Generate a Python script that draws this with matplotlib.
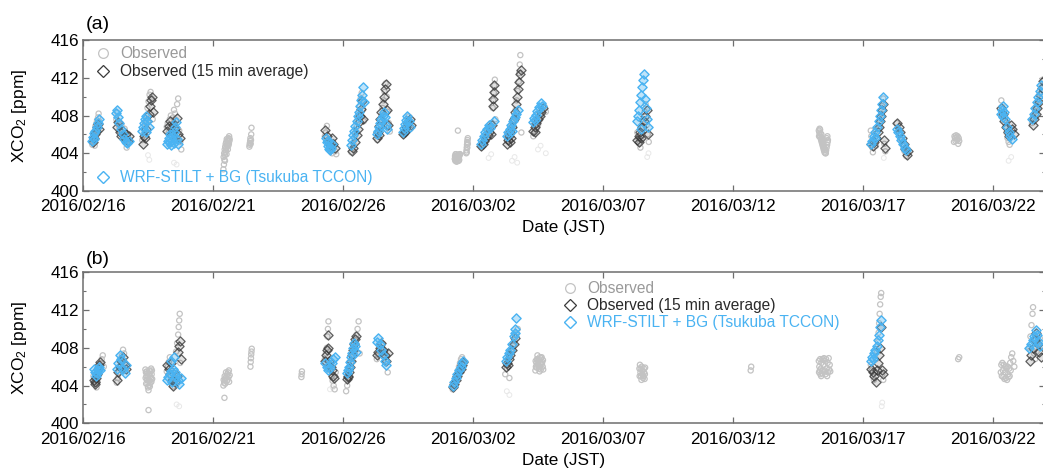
import numpy as np
import matplotlib
matplotlib.use('Agg')
import matplotlib.pyplot as plt
import matplotlib.dates as mdates
from matplotlib.lines import Line2D
from matplotlib.ticker import MultipleLocator
from matplotlib.colors import to_rgba

plt.rcParams['font.family'] = ['Liberation Sans', 'DejaVu Sans']
plt.rcParams['mathtext.fontset'] = 'custom'
plt.rcParams['mathtext.rm'] = 'Liberation Sans'
plt.rcParams['mathtext.it'] = 'Liberation Sans:italic'

# ---------------- axis settings ----------------
start_date = '2016-02-16'
end_date = '2016-03-24'
tick_dates = ['2016-02-16', '2016-02-21', '2016-02-26', '2016-03-02',
              '2016-03-07', '2016-03-12', '2016-03-17', '2016-03-22']
y_ticks = [400, 404, 408, 412, 416]
panel_labels = ['(a)', '(b)']
legend_labels = ['Observed', 'Observed (15 min average)', 'WRF-STILT + BG (Tsukuba TCCON)']
x_label = 'Date (JST)'
y_label = 'XCO$_2$ [ppm]'

# ---------------- panel (a) data: days since 2016/02/16 00:00 JST ----------------
a_obs_day = [
    0.36, 0.38, 0.40, 0.42, 0.44, 0.46, 0.48, 0.50, 0.52, 0.54, 0.56, 0.58, 0.60, 0.62, 0.45,
    1.28, 1.32, 1.36, 1.40, 1.44, 1.48, 1.52, 1.56, 1.60, 1.64, 1.68, 1.72, 1.76, 1.80,
    2.28, 2.32, 2.36, 2.40, 2.44, 2.48, 2.52, 2.56, 2.60, 2.64, 2.68,
    3.22, 3.26, 3.30, 3.34, 3.38, 3.42, 3.46, 3.50, 3.54, 3.58, 3.62, 3.66, 3.70, 3.74, 3.78,
    5.40, 5.42, 5.44, 5.46, 5.48, 5.50, 5.52, 5.54, 5.56, 5.58, 5.60, 5.62, 5.64, 5.41, 5.43, 5.45, 5.47, 5.49, 5.51, 5.53,
    5.57, 5.59, 5.61, 5.63, 5.46, 5.52,
    6.40, 6.41, 6.42, 6.43, 6.44, 6.45, 6.46, 6.47, 6.48,
    9.30, 9.34, 9.38, 9.42, 9.46, 9.50, 9.54, 9.58, 9.62, 9.66, 9.70, 9.74,
    10.32, 10.36, 10.40, 10.44, 10.48, 10.52, 10.56, 10.60, 10.64, 10.68, 10.72, 10.76, 10.80,
    11.32, 11.36, 11.40, 11.44, 11.48, 11.52, 11.56, 11.60, 11.64, 11.68, 11.72, 11.76, 11.80,
    12.32, 12.36, 12.40, 12.44, 12.48, 12.52, 12.56, 12.60,
    14.30, 14.32, 14.34, 14.36, 14.38, 14.40, 14.42, 14.44, 14.46, 14.48, 14.50, 14.33, 14.39, 14.45,
    14.74, 14.75, 14.76, 14.77, 14.78, 14.79, 14.80, 14.42,
    14.31, 14.35, 14.37, 14.41, 14.43, 14.47, 14.49, 14.76, 14.78, 14.80,
    15.32, 15.36, 15.40, 15.44, 15.48, 15.52, 15.56, 15.60, 15.64, 15.68, 15.72, 15.76, 15.78, 15.80, 15.82, 15.84, 15.86,
    16.32, 16.36, 16.40, 16.44, 16.48, 16.52, 16.56, 16.60, 16.64, 16.68, 16.72, 16.76, 16.78, 16.80, 16.82, 16.86,
    17.32, 17.38, 17.44, 17.50, 17.56, 17.62, 17.68, 17.74, 17.80,
    21.32, 21.36, 21.40, 21.44, 21.48, 21.52, 21.56, 21.60, 21.64, 21.68, 21.72, 21.76,
    28.30, 28.32, 28.34, 28.36, 28.38, 28.40, 28.42, 28.44, 28.46, 28.48, 28.50, 28.52, 28.55, 28.58, 28.60, 28.62, 28.64, 28.40, 28.35,
    28.31, 28.33, 28.37, 28.41, 28.43, 28.45, 28.47, 28.49, 28.51, 28.53, 28.57, 28.61, 28.63, 28.65,
    30.30, 30.32, 30.34, 30.36, 30.38, 30.50, 30.56, 30.62, 30.66, 30.70, 30.74, 30.78, 30.82, 30.86,
    31.30, 31.36, 31.42, 31.48, 31.54, 31.60, 31.66, 31.72,
    33.50, 33.54, 33.58, 33.62, 33.66, 33.70, 33.52, 33.56, 33.60, 33.64, 33.68,
    35.32, 35.36, 35.40, 35.44, 35.48, 35.52, 35.56, 35.60, 35.64, 35.70, 35.76,
    36.50, 36.56, 36.62, 36.68, 36.74, 36.80, 36.86, 36.92,
]
a_obs_xco2 = [
    404.9, 405.3, 405.6, 406.0, 405.8, 406.4, 406.9, 406.6, 407.2, 407.5, 407.0, 407.8, 408.2, 407.4, 404.8,
    407.6, 408.3, 407.2, 406.8, 406.3, 407.0, 406.0, 405.5, 406.6, 405.2, 404.6, 405.8, 405.1, 405.4,
    405.4, 405.9, 406.5, 407.2, 408.0, 408.8, 409.5, 410.2, 410.5, 409.8, 407.6,
    406.8, 407.2, 406.2, 407.6, 408.0, 406.9, 407.8, 408.6, 408.2, 407.5, 409.2, 409.8, 406.4, 405.2, 404.4,
    402.3, 402.8, 403.3, 403.8, 404.1, 404.3, 404.6, 404.9, 405.1, 405.4, 405.6, 405.8, 405.5, 403.6, 404.0, 404.4, 404.7, 405.0, 405.2, 405.5,
    404.4, 404.8, 405.0, 405.3, 403.2, 403.9,
    404.7, 404.9, 405.1, 405.3, 405.6, 405.0, 405.4, 406.0, 406.7,
    405.8, 406.2, 406.9, 405.4, 405.0, 404.6, 404.3, 404.0, 405.2, 404.8, 404.2, 403.9,
    404.1, 404.5, 405.0, 405.6, 406.2, 406.8, 407.5, 408.3, 409.0, 409.8, 410.4, 408.6, 407.4,
    405.4, 405.8, 406.5, 407.3, 408.0, 408.8, 409.6, 410.5, 411.4, 410.0, 408.4, 407.2, 406.3,
    405.9, 406.3, 406.7, 407.1, 407.5, 407.9, 407.3, 406.6,
    403.4, 403.2, 403.3, 403.5, 403.4, 403.6, 403.5, 403.7, 403.6, 403.8, 403.9, 403.9, 403.8, 403.2,
    404.0, 404.3, 404.6, 404.9, 405.2, 405.4, 405.6, 406.4,
    403.7, 403.9, 403.1, 403.2, 403.8, 403.3, 403.9, 404.1, 404.6, 405.0,
    404.6, 404.9, 405.2, 405.5, 405.8, 406.1, 406.4, 406.7, 407.0, 406.5, 407.2, 408.8, 409.6, 410.4, 411.2, 411.8, 407.6,
    405.3, 405.6, 406.0, 406.5, 407.0, 407.4, 406.8, 407.8, 408.6, 409.6, 410.6, 411.6, 412.5, 413.4, 414.4, 406.2,
    405.8, 406.2, 406.6, 407.0, 407.5, 408.0, 408.6, 409.0, 408.4,
    406.2, 405.6, 405.0, 404.6, 405.4, 406.8, 407.6, 408.4, 409.2, 407.0, 406.0, 405.2,
    406.4, 406.2, 405.9, 405.7, 405.5, 405.3, 405.1, 404.9, 404.7, 404.5, 404.3, 404.1, 404.0, 404.3, 404.6, 404.9, 405.2, 406.0, 406.5,
    405.8, 406.6, 406.1, 405.6, 405.4, 405.2, 405.0, 404.8, 404.6, 404.4, 404.0, 405.6, 405.8, 405.4,
    406.4, 405.8, 405.2, 404.6, 404.1, 404.8, 405.6, 406.6, 407.4, 408.2, 409.0, 409.8, 405.0, 404.2,
    407.2, 406.6, 406.0, 405.4, 404.8, 404.2, 403.7, 404.0,
    405.2, 405.6, 405.9, 405.4, 405.0, 405.3, 405.8, 405.3, 405.7, 405.8, 405.6,
    409.6, 408.9, 408.2, 407.5, 406.8, 406.2, 405.6, 405.2, 404.9, 405.8, 406.4,
    407.2, 407.8, 408.4, 409.0, 409.6, 410.3, 411.0, 411.8,
]
a_faint_day = [2.50, 2.55, 3.50, 3.60, 15.60, 15.70, 16.50, 16.60, 16.70, 17.50, 17.60, 17.80, 21.70, 21.75, 30.80, 35.60, 35.70]
a_faint_xco2 = [403.8, 403.3, 403.0, 402.8, 403.5, 403.9, 403.2, 403.6, 403.0, 404.4, 404.8, 404.0, 403.6, 404.0, 403.5, 403.2, 403.6]

a_avg_day = [
    0.38, 0.42, 0.46, 0.50, 0.54, 0.58, 0.62,
    1.30, 1.36, 1.42, 1.48, 1.54, 1.60, 1.66, 1.72, 1.78,
    2.30, 2.36, 2.42, 2.48, 2.52, 2.56, 2.60, 2.64, 2.68, 2.38,
    3.24, 3.30, 3.36, 3.42, 3.48, 3.54, 3.60, 3.66, 3.72, 3.38,
    9.32, 9.38, 9.44, 9.50, 9.56, 9.62, 9.68,
    10.34, 10.40, 10.46, 10.52, 10.58, 10.62, 10.66, 10.70, 10.74, 10.78,
    11.32, 11.36, 11.40, 11.44, 11.48, 11.52, 11.56, 11.60, 11.64, 11.68, 11.72, 11.40,
    12.32, 12.38, 12.44, 12.50, 12.56, 12.62, 12.40,
    15.32, 15.38, 15.44, 15.50, 15.56, 15.62, 15.68, 15.76, 15.78, 15.80, 15.82, 15.74,
    16.32, 16.36, 16.40, 16.44, 16.50, 16.56, 16.60, 16.64, 16.68, 16.72, 16.76, 16.80, 16.84, 16.48, 16.42,
    17.32, 17.38, 17.44, 17.50, 17.56, 17.62, 17.68, 17.40,
    21.32, 21.38, 21.44, 21.50, 21.56, 21.62, 21.68, 21.74, 21.40, 21.48,
    30.32, 30.38, 30.44, 30.50, 30.56, 30.62, 30.66, 30.70, 30.74, 30.78, 30.82, 30.86,
    31.32, 31.38, 31.44, 31.50, 31.56, 31.62, 31.68, 31.72,
    35.32, 35.38, 35.44, 35.50, 35.56, 35.62, 35.68, 35.74, 35.80,
    36.52, 36.58, 36.64, 36.70, 36.76, 36.82, 36.88, 36.94,
]
a_avg_xco2 = [
    405.2, 405.6, 406.0, 406.4, 406.8, 407.1, 406.6,
    406.8, 407.3, 406.2, 405.8, 406.4, 405.6, 406.0, 405.3, 405.8,
    405.0, 405.8, 406.6, 407.4, 408.2, 409.0, 409.6, 410.0, 408.4, 405.6,
    406.4, 406.9, 407.4, 406.2, 407.0, 406.6, 407.7, 406.0, 405.6, 405.9,
    406.5, 405.8, 405.3, 404.9, 405.6, 405.0, 404.6,
    404.2, 404.6, 405.2, 405.9, 406.6, 407.3, 408.0, 408.7, 409.5, 407.6,
    405.6, 406.2, 406.9, 407.6, 408.4, 409.2, 410.0, 410.8, 411.3, 408.6, 407.0, 405.9,
    406.0, 406.4, 406.8, 407.2, 407.6, 407.0, 406.2,
    404.8, 405.0, 405.3, 405.6, 405.9, 406.2, 406.0, 409.0, 409.8, 410.5, 411.2, 407.0,
    405.0, 405.4, 405.8, 406.2, 406.8, 407.6, 408.4, 409.2, 410.0, 410.8, 411.6, 412.4, 412.8, 405.6, 405.2,
    406.4, 406.8, 407.2, 407.6, 408.0, 408.4, 408.8, 406.2,
    405.4, 405.8, 406.2, 406.8, 407.4, 408.0, 408.6, 406.0, 405.2, 405.6,
    405.0, 404.8, 405.2, 405.6, 406.2, 406.8, 407.4, 408.0, 408.6, 409.2, 405.4, 404.6,
    407.2, 406.8, 406.2, 405.6, 405.0, 404.4, 403.8, 404.2,
    408.8, 408.2, 407.4, 406.8, 406.2, 405.8, 407.0, 406.6, 406.0,
    407.0, 407.6, 408.2, 408.8, 409.4, 410.2, 410.9, 411.7,
]

a_mod_day = [
    0.36, 0.40, 0.44, 0.48, 0.52, 0.56, 0.60, 0.42,
    1.28, 1.32, 1.36, 1.40, 1.46, 1.52, 1.58, 1.64, 1.70, 1.76,
    2.28, 2.32, 2.36, 2.40, 2.44, 2.48, 2.52, 2.42,
    3.22, 3.26, 3.30, 3.34, 3.38, 3.42, 3.46, 3.50, 3.54, 3.58, 3.62, 3.66, 3.34, 3.50,
    9.34, 9.38, 9.42, 9.46, 9.50, 9.54, 9.58, 9.44,
    10.32, 10.36, 10.40, 10.44, 10.48, 10.52, 10.56, 10.60, 10.64, 10.68, 10.72, 10.76, 10.80,
    11.32, 11.36, 11.40, 11.44, 11.48, 11.52, 11.56, 11.60, 11.64, 11.68,
    12.32, 12.36, 12.40, 12.44, 12.48, 12.52, 12.56,
    15.30, 15.36, 15.42, 15.48, 15.54, 15.60, 15.66, 15.80,
    16.30, 16.36, 16.42, 16.48, 16.54, 16.60, 16.66, 16.72, 16.50,
    17.30, 17.36, 17.42, 17.48, 17.54, 17.60, 17.66, 17.40,
    21.30, 21.34, 21.38, 21.42, 21.46, 21.50, 21.54, 21.58, 21.62, 21.66, 21.70, 21.74, 21.48,
    30.30, 30.36, 30.42, 30.48, 30.54, 30.60, 30.64, 30.68, 30.72, 30.76, 30.46,
    31.30, 31.36, 31.42, 31.48, 31.54, 31.60, 31.66,
    35.30, 35.34, 35.38, 35.42, 35.48, 35.54, 35.60, 35.66, 35.72, 35.40,
    36.50, 36.56, 36.62, 36.68, 36.74, 36.80, 36.86,
]
a_mod_xco2 = [
    405.3, 405.7, 406.1, 406.4, 406.8, 407.2, 407.6, 405.5,
    408.3, 408.6, 407.8, 407.2, 406.6, 406.0, 405.5, 405.2, 405.1, 405.3,
    406.4, 406.8, 407.2, 407.6, 408.0, 407.4, 406.8, 406.2,
    405.0, 405.3, 405.6, 405.2, 404.9, 405.4, 405.8, 406.2, 406.8, 407.3, 405.5, 405.0, 406.0, 405.1,
    405.6, 405.2, 404.8, 404.5, 404.3, 404.6, 405.0, 405.3,
    404.9, 405.4, 405.9, 406.4, 406.9, 407.4, 407.9, 408.4, 409.0, 409.6, 410.2, 411.0, 409.4,
    406.0, 406.4, 406.8, 407.2, 407.6, 408.0, 408.4, 407.8, 407.0, 406.6,
    406.3, 406.7, 407.1, 407.5, 407.9, 407.4, 406.8,
    405.0, 405.4, 405.8, 406.2, 406.6, 407.0, 406.7, 407.4,
    405.8, 406.2, 406.6, 407.0, 407.4, 407.8, 408.2, 408.6, 406.4,
    407.3, 407.7, 408.1, 408.5, 408.9, 409.3, 409.0, 407.5,
    407.4, 408.0, 408.6, 409.4, 410.2, 411.0, 411.8, 412.4, 409.8, 408.8, 407.6, 406.8, 406.6,
    405.0, 405.3, 405.8, 406.2, 406.8, 407.4, 408.0, 408.6, 409.2, 410.0, 405.6,
    406.6, 406.2, 405.8, 405.4, 405.0, 404.6, 404.3,
    408.2, 408.6, 409.0, 408.4, 407.6, 406.8, 406.2, 405.8, 405.5, 407.8,
    407.6, 408.2, 408.8, 409.4, 410.0, 410.6, 411.2,
]

# ---------------- panel (b) data ----------------
b_obs_day = [
    0.40, 0.44, 0.48, 0.52, 0.56, 0.60, 0.64, 0.68, 0.72, 0.76, 0.80,
    1.30, 1.34, 1.38, 1.42, 1.46, 1.50, 1.54, 1.58, 1.62, 1.66,
    2.40, 2.42, 2.44, 2.46, 2.48, 2.50, 2.52, 2.54, 2.56, 2.58, 2.60, 2.62, 2.64, 2.66, 2.52,
    2.41, 2.43, 2.45, 2.47, 2.49, 2.51, 2.53, 2.55, 2.57, 2.59, 2.61, 2.63, 2.65,
    3.22, 3.26, 3.30, 3.34, 3.38, 3.42, 3.46, 3.50, 3.54, 3.58, 3.62, 3.66, 3.68, 3.70, 3.72, 3.74,
    5.40, 5.43, 5.46, 5.49, 5.52, 5.55, 5.58, 5.61, 5.64, 5.47, 5.53, 5.44,
    5.41, 5.45, 5.50, 5.56, 5.60, 5.62,
    6.44, 6.45, 6.46, 6.47, 6.48, 6.49,
    8.40, 8.41, 8.42,
    9.30, 9.34, 9.38, 9.40, 9.42, 9.44, 9.48, 9.52, 9.56, 9.60, 9.64, 9.68, 9.72,
    10.12, 10.16, 10.20, 10.24, 10.28, 10.32, 10.36, 10.40, 10.44, 10.48, 10.52, 10.56, 10.60, 10.64,
    11.30, 11.36, 11.42, 11.48, 11.54, 11.60, 11.66, 11.72,
    14.22, 14.26, 14.30, 14.34, 14.38, 14.42, 14.46, 14.50, 14.54, 14.58, 14.62,
    16.24, 16.30, 16.36, 16.42, 16.48, 16.54, 16.60, 16.66, 16.72, 16.40,
    17.40, 17.42, 17.44, 17.46, 17.48, 17.50, 17.52, 17.54, 17.56, 17.58, 17.60, 17.62, 17.64, 17.66, 17.68, 17.70,
    17.41, 17.45, 17.49, 17.53, 17.57, 17.61, 17.65, 17.69,
    21.40, 21.42, 21.44, 21.46, 21.48, 21.50, 21.52, 21.54, 21.56, 21.58, 21.60, 21.62,
    21.41, 21.45, 21.49, 21.53, 21.57, 21.61,
    25.68, 25.70,
    28.30, 28.32, 28.34, 28.36, 28.38, 28.40, 28.44, 28.48, 28.52, 28.56, 28.60, 28.64, 28.68, 28.72, 28.74,
    28.31, 28.35, 28.39, 28.42, 28.46, 28.50, 28.54, 28.58, 28.62, 28.66, 28.70,
    30.30, 30.34, 30.38, 30.42, 30.46, 30.50, 30.54, 30.58, 30.60, 30.62, 30.64, 30.66, 30.68, 30.70, 30.74, 30.78,
    33.66, 33.70,
    35.30, 35.34, 35.38, 35.42, 35.46, 35.50, 35.54, 35.58, 35.62, 35.66, 35.70, 35.74, 35.78, 35.82,
    35.32, 35.36, 35.40, 35.44, 35.48, 35.52, 35.56, 35.60, 35.64, 35.68,
    36.40, 36.44, 36.48, 36.52, 36.54, 36.58, 36.62, 36.68, 36.74, 36.80, 36.86,
]
b_obs_xco2 = [
    405.0, 404.6, 404.2, 403.8, 404.4, 405.2, 405.8, 406.4, 406.8, 407.2, 406.0,
    404.3, 404.8, 405.4, 406.0, 406.6, 407.2, 407.8, 407.4, 406.4, 405.6,
    405.7, 405.4, 405.0, 404.6, 404.2, 403.8, 403.5, 404.0, 404.5, 405.0, 405.5, 405.8, 405.2, 404.7, 401.4,
    404.8, 404.2, 405.5, 405.3, 404.9, 404.5, 405.2, 405.6, 403.9, 404.3, 404.8, 404.4, 405.6,
    405.5, 406.0, 406.5, 407.0, 405.0, 404.4, 403.9, 404.6, 405.3, 407.6, 408.5, 409.4, 410.2, 410.9, 411.6, 406.4,
    404.0, 404.3, 404.6, 404.8, 405.0, 405.2, 405.4, 405.6, 405.1, 404.2, 404.5, 402.7,
    404.6, 405.0, 405.4, 404.6, 404.9, 404.4,
    406.0, 406.5, 406.9, 407.3, 407.6, 407.9,
    404.9, 405.2, 405.5,
    406.8, 407.4, 408.0, 409.2, 410.0, 410.8, 406.2, 405.6, 405.0, 404.5, 404.0, 403.6, 405.4,
    403.4, 404.0, 404.6, 405.2, 405.8, 406.4, 407.0, 407.6, 408.2, 408.8, 409.4, 410.0, 410.8, 407.4,
    406.8, 407.2, 407.6, 408.0, 408.4, 407.4, 406.6, 405.4,
    403.6, 404.0, 404.4, 404.8, 405.2, 405.6, 406.0, 406.4, 406.8, 407.0, 406.2,
    405.2, 405.8, 406.4, 407.0, 407.6, 408.2, 408.8, 409.4, 410.0, 404.8,
    405.6, 406.0, 406.4, 406.8, 407.2, 406.6, 406.2, 405.8, 405.5, 406.0, 406.4, 406.9, 407.0, 406.5, 406.0, 405.7,
    406.6, 405.9, 406.2, 406.8, 407.0, 405.7, 406.3, 406.7,
    405.8, 406.2, 405.4, 405.0, 404.6, 405.2, 405.6, 404.8, 405.0, 405.4, 404.7, 405.9,
    405.0, 405.8, 406.0, 405.1, 405.8, 405.2,
    405.6, 406.0,
    406.6, 406.0, 405.6, 405.2, 405.8, 406.4, 406.8, 406.2, 405.6, 405.2, 405.8, 406.4, 406.9, 406.2, 405.5,
    405.4, 406.8, 405.0, 405.3, 405.6, 406.9, 406.6, 406.8, 405.0, 405.4, 405.7,
    406.2, 405.6, 405.0, 404.6, 405.4, 406.8, 407.6, 408.6, 409.6, 410.6, 411.6, 412.6, 413.4, 413.8, 405.2, 404.6,
    406.8, 407.0,
    405.4, 405.0, 405.6, 406.2, 405.4, 404.8, 404.6, 405.2, 405.8, 406.4, 407.0, 407.4, 406.6, 406.0,
    406.2, 406.4, 404.9, 404.7, 406.0, 405.8, 406.0, 404.9, 405.0, 405.6,
    408.0, 409.2, 410.4, 411.6, 412.3, 407.4, 406.8, 407.6, 408.4, 409.0, 408.2,
]
b_faint_day = [3.60, 3.70, 9.50, 9.60, 16.30, 16.40, 30.72, 30.74]
b_faint_xco2 = [402.0, 401.8, 403.6, 403.8, 403.4, 403.0, 401.8, 402.2]

b_avg_day = [
    0.42, 0.46, 0.50, 0.54, 0.58, 0.62, 0.66, 0.48,
    1.30, 1.36, 1.42, 1.48, 1.54, 1.60, 1.66,
    3.24, 3.30, 3.36, 3.42, 3.48, 3.54, 3.60, 3.64, 3.68, 3.72, 3.76, 3.40,
    9.32, 9.36, 9.40, 9.44, 9.48, 9.52, 9.56, 9.60, 9.64, 9.42,
    10.14, 10.18, 10.22, 10.26, 10.30, 10.34, 10.38, 10.42, 10.46, 10.50, 10.20,
    11.30, 11.36, 11.42, 11.48, 11.54, 11.60, 11.66, 11.72,
    14.22, 14.28, 14.34, 14.40, 14.46, 14.52, 14.58, 14.62,
    16.26, 16.32, 16.38, 16.44, 16.50, 16.56, 16.62, 16.34,
    30.32, 30.38, 30.44, 30.50, 30.54, 30.58, 30.62, 30.66, 30.70, 30.74, 30.78,
    36.42, 36.48, 36.54, 36.60, 36.66, 36.72, 36.78, 36.84,
]
b_avg_xco2 = [
    404.6, 404.2, 404.8, 405.2, 405.8, 406.2, 406.5, 404.4,
    404.6, 405.4, 406.0, 406.6, 407.0, 406.2, 405.8,
    406.2, 405.8, 405.2, 404.6, 403.9, 404.4, 405.0, 407.6, 408.2, 408.7, 406.8, 406.4,
    406.6, 407.2, 407.8, 409.4, 406.6, 406.0, 405.6, 405.0, 404.8, 408.0,
    404.7, 405.0, 405.4, 406.0, 406.6, 407.2, 407.8, 408.4, 408.9, 409.3, 404.9,
    407.2, 407.6, 408.0, 408.5, 407.8, 407.2, 406.6, 407.4,
    403.8, 404.2, 404.6, 405.0, 405.4, 405.8, 406.2, 406.5,
    406.0, 406.4, 406.8, 407.2, 407.8, 408.4, 409.0, 406.2,
    405.8, 405.4, 405.0, 404.4, 405.6, 406.4, 407.2, 408.0, 410.2, 405.6, 405.2,
    406.6, 407.2, 408.0, 408.8, 409.6, 408.4, 407.6, 407.0,
]

b_mod_day = [
    0.42, 0.46, 0.50, 0.54, 0.58, 0.62, 0.66,
    1.30, 1.36, 1.42, 1.48, 1.54, 1.60, 1.66,
    3.22, 3.28, 3.34, 3.40, 3.46, 3.52, 3.58, 3.64, 3.70, 3.76, 3.38, 3.50, 3.44,
    9.32, 9.38, 9.44, 9.50, 9.56, 9.62, 9.68,
    10.14, 10.18, 10.22, 10.26, 10.30, 10.34, 10.38, 10.42, 10.46, 10.50,
    11.30, 11.36, 11.42, 11.48, 11.54, 11.60, 11.66,
    14.22, 14.28, 14.34, 14.40, 14.46, 14.52, 14.58, 14.62,
    16.26, 16.32, 16.38, 16.44, 16.50, 16.56, 16.62, 16.66, 16.60,
    30.30, 30.36, 30.42, 30.48, 30.54, 30.58, 30.62, 30.66, 30.70, 30.40,
    36.40, 36.46, 36.52, 36.58, 36.64, 36.70, 36.76, 36.82,
]
b_mod_xco2 = [
    405.8, 405.4, 405.0, 405.3, 405.6, 406.0, 405.7,
    405.8, 406.4, 407.2, 406.8, 405.8, 405.3, 406.2,
    404.6, 404.9, 405.2, 405.5, 405.8, 405.4, 405.0, 404.6, 404.2, 404.8, 406.6, 407.0, 404.4,
    406.4, 406.0, 405.6, 405.9, 406.4, 406.8, 407.0,
    405.3, 405.6, 406.0, 406.5, 407.0, 407.5, 408.0, 408.5, 408.2, 407.6,
    408.6, 409.0, 408.4, 407.8, 407.2, 406.6, 406.2,
    404.0, 404.4, 404.8, 405.2, 405.6, 406.0, 406.4, 406.6,
    406.6, 407.0, 407.4, 407.8, 408.4, 409.2, 410.0, 411.2, 409.6,
    406.6, 407.0, 407.4, 407.8, 408.2, 408.8, 409.4, 410.2, 410.9, 406.8,
    408.0, 408.4, 408.8, 409.3, 409.9, 409.4, 408.6, 408.2,
]

# ---------------- styles ----------------
c_obs = '#c3c3c3'
c_faint = '#e8e8e8'
c_avg = '#3a3a3a'
c_mod = '#4ab3f2'
c_obs_text = '#9a9a9a'
c_avg_text = '#2a2a2a'
c_mod_text = '#4ab3f2'
spine_color = '#6e6e6e'

W, H = 1043, 469
fig = plt.figure(figsize=(W / 100, H / 100), dpi=100)

base = mdates.date2num(np.datetime64(start_date))


def to_num(days):
    return base + np.asarray(days, dtype=float)


def draw_panel(ax, obs_d, obs_v, faint_d, faint_v, avg_d, avg_v, mod_d, mod_v):
    ax.scatter(to_num(faint_d), faint_v, s=12, marker='o', facecolors='none',
               edgecolors=c_faint, linewidths=0.7, zorder=2)
    ax.scatter(to_num(obs_d), obs_v, s=14, marker='o', facecolors='none',
               edgecolors=c_obs, linewidths=0.9, zorder=3)
    ax.scatter(to_num(avg_d), avg_v, s=22, marker='D', facecolors=[to_rgba(c_avg, 0.15)],
               edgecolors=[to_rgba(c_avg, 0.8)], linewidths=0.9, zorder=4)
    ax.scatter(to_num(mod_d), mod_v, s=22, marker='D', facecolors=[to_rgba(c_mod, 0.35)],
               edgecolors=[to_rgba(c_mod, 1.0)], linewidths=1.0, zorder=5)

    ax.set_xlim(mdates.date2num(np.datetime64(start_date)), mdates.date2num(np.datetime64(end_date)))
    ax.set_ylim(y_ticks[0], y_ticks[-1])
    ax.set_xticks([mdates.date2num(np.datetime64(d)) for d in tick_dates])
    ax.xaxis.set_major_formatter(mdates.DateFormatter('%Y/%m/%d'))
    ax.set_yticks(y_ticks)
    ax.yaxis.set_minor_locator(MultipleLocator(2))
    ax.tick_params(which='both', direction='in', top=True, right=True,
                   color=spine_color, labelsize=12.3, pad=3)
    ax.tick_params(which='major', length=4.5, width=0.9)
    ax.tick_params(which='minor', length=2.5, width=0.8)
    ax.tick_params(axis='x', pad=6)
    for s in ax.spines.values():
        s.set_color(spine_color)
        s.set_linewidth(1.1)
    ax.set_xlabel(x_label, fontsize=12.3)
    ax.set_ylabel(y_label, fontsize=12.5)
    ax.yaxis.set_label_coords(-0.056, 0.5)


def handles():
    h_obs = Line2D([], [], ls='none', marker='o', ms=7, mfc='none', mec=c_obs, mew=0.9)
    h_avg = Line2D([], [], ls='none', marker='D', ms=6.4, mfc='none', mec=c_avg, mew=0.9)
    h_mod = Line2D([], [], ls='none', marker='D', ms=6.4, mfc='none', mec=c_mod, mew=1.0)
    return h_obs, h_avg, h_mod


def leg_kw(spacing):
    return dict(frameon=False, fontsize=11.2, handlelength=1.0, handletextpad=0.6,
                borderpad=0, borderaxespad=0, labelspacing=spacing, loc='upper left',
                bbox_transform=fig.transFigure)


# ---- panel (a)
ax_a = fig.add_axes([83 / W, 1 - 191 / H, 962 / W, 151 / H])
draw_panel(ax_a, a_obs_day, a_obs_xco2, a_faint_day, a_faint_xco2,
           a_avg_day, a_avg_xco2, a_mod_day, a_mod_xco2)
ax_a.xaxis.set_label_coords(0.5, -0.19)
h_obs, h_avg, h_mod = handles()
leg1 = ax_a.legend([h_obs, h_avg], legend_labels[:2], bbox_to_anchor=(95 / W, 1 - 46 / H),
                   labelcolor=[c_obs_text, c_avg_text], **leg_kw(0.2))
ax_a.add_artist(leg1)
ax_a.legend([h_mod], legend_labels[2:], bbox_to_anchor=(95 / W, 1 - 170 / H),
            labelcolor=[c_mod_text], **leg_kw(0.2))
ax_a.text(0.003, 1.075, panel_labels[0], transform=ax_a.transAxes, fontsize=14,
          ha='left', va='baseline')

# ---- panel (b)
ax_b = fig.add_axes([83 / W, 1 - 423.3 / H, 962 / W, 151 / H])
draw_panel(ax_b, b_obs_day, b_obs_xco2, b_faint_day, b_faint_xco2,
           b_avg_day, b_avg_xco2, b_mod_day, b_mod_xco2)
ax_b.xaxis.set_label_coords(0.5, -0.195)
h_obs, h_avg, h_mod = handles()
ax_b.legend([h_obs, h_avg, h_mod], legend_labels, bbox_to_anchor=(562 / W, 1 - 281 / H),
            labelcolor=[c_obs_text, c_avg_text, c_mod_text], **leg_kw(0.13))
ax_b.text(0.003, 1.055, panel_labels[1], transform=ax_b.transAxes, fontsize=14,
          ha='left', va='baseline')

fig.savefig('out.png', dpi=100)
